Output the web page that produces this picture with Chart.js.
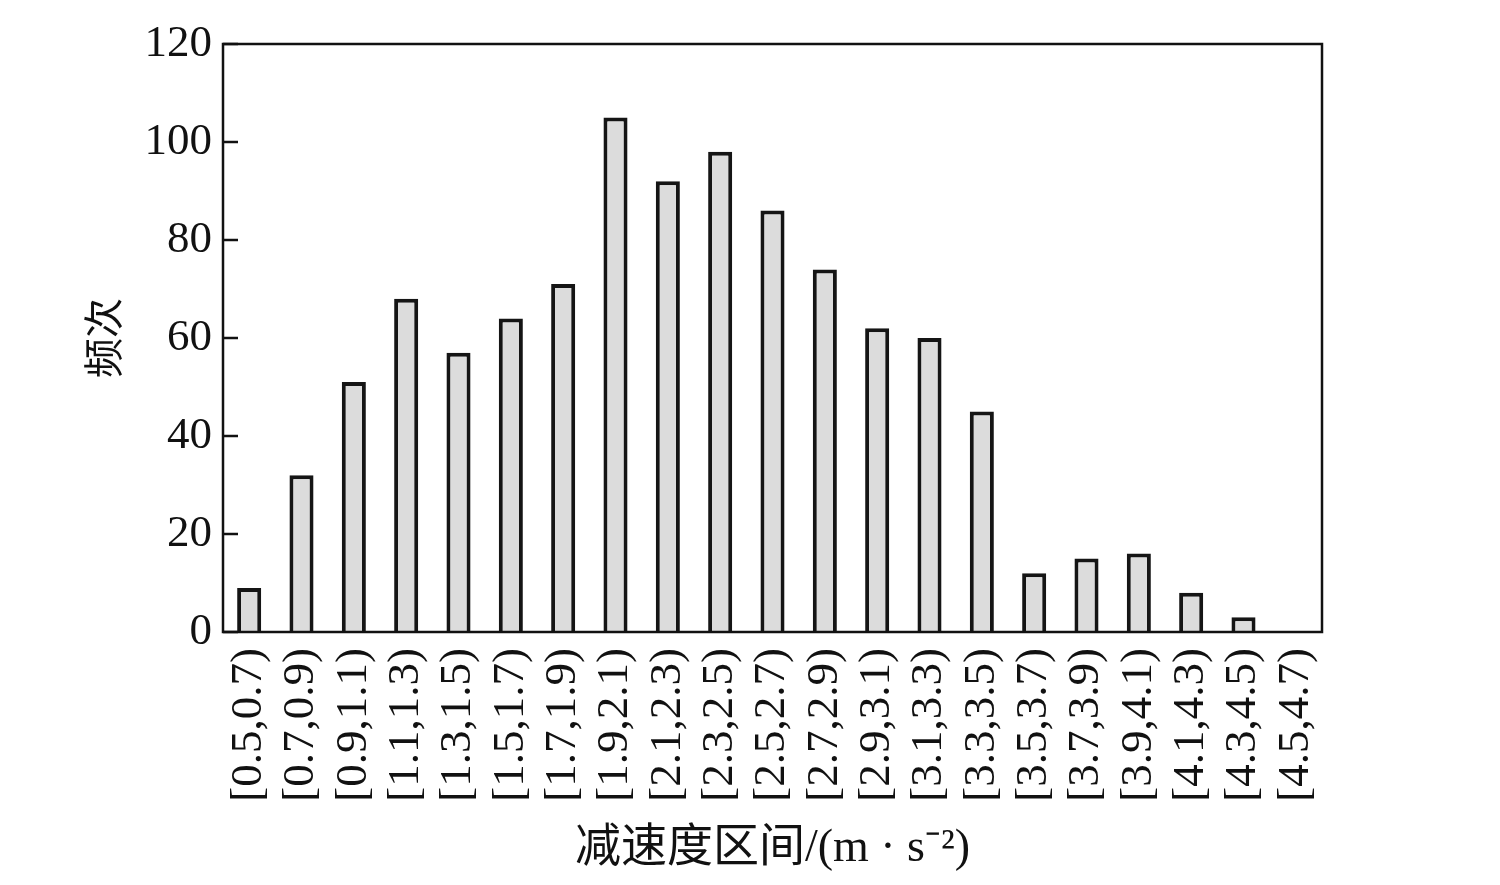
<!DOCTYPE html>
<html>
<head>
<meta charset="utf-8">
<script src="https://cdn.jsdelivr.net/npm/chart.js@4"></script>
<style>
  body { margin: 0; background: #fff; }
</style>
</head>
<body>
<canvas id="chart" width="1500" height="885"></canvas>
<script>
const bins = ['[0.5,0.7)','[0.7,0.9)','[0.9,1.1)','[1.1,1.3)','[1.3,1.5)','[1.5,1.7)','[1.7,1.9)',
              '[1.9,2.1)','[2.1,2.3)','[2.3,2.5)','[2.5,2.7)','[2.7,2.9)','[2.9,3.1)','[3.1,3.3)',
              '[3.3,3.5)','[3.5,3.7)','[3.7,3.9)','[3.9,4.1)','[4.1,4.3)','[4.3,4.5)','[4.5,4.7)'];
const counts = [9, 32, 51, 68, 57, 64, 71, 105, 92, 98, 86, 74, 62, 60, 45, 12, 15, 16, 8, 3, 0];
const yMax = 120, yStep = 20;
const xTitle = '减速度区间/(m · s⁻²)';
const yTitle = '频次';

const serif = '"Liberation Serif", "Times New Roman", serif';
const cjk   = '"Liberation Serif", "Noto Sans CJK SC", serif';

// box + inward ticks on the left axis
const frame = {
  id: 'frame',
  afterDraw(chart) {
    const { ctx, chartArea: a, scales: { y } } = chart;
    ctx.save();
    ctx.strokeStyle = '#111';
    ctx.lineWidth = 2.5;
    ctx.strokeRect(a.left, a.top, a.right - a.left, a.bottom - a.top);
    y.ticks.forEach(t => {
      const py = Math.round(y.getPixelForValue(t.value));
      ctx.beginPath();
      ctx.moveTo(a.left, py);
      ctx.lineTo(a.left + 15, py);
      ctx.stroke();
    });
    ctx.restore();
  }
};

new Chart(document.getElementById('chart'), {
  type: 'bar',
  data: {
    labels: bins,
    datasets: [{
      data: counts,
      backgroundColor: '#dcdcdc',
      borderColor: '#151515',
      borderWidth: 4,
      barPercentage: 0.46,
      categoryPercentage: 1
    }]
  },
  options: {
    responsive: false,
    animation: false,
    layout: { padding: { top: 44, right: 178, left: 0, bottom: 0 } },
    plugins: { legend: { display: false }, tooltip: { enabled: false } },
    scales: {
      x: {
        grid: { display: false, drawTicks: false },
        border: { display: false },
        ticks: {
          color: '#111',
          font: { family: serif, size: 45, lineHeight: 1 },
          minRotation: 90, maxRotation: 90,
          autoSkip: false,
          padding: 16
        },
        title: {
          display: true, text: xTitle, color: '#111',
          font: { family: cjk, size: 46 },
          padding: { bottom: 8 }
        },
        afterFit(s) { s.height = 253; }
      },
      y: {
        min: 0, max: yMax,
        grid: { display: false, drawTicks: false },
        border: { display: false },
        ticks: {
          stepSize: yStep,
          color: '#111',
          font: { family: serif, size: 45 },
          padding: 11
        },
        title: {
          display: true, text: yTitle, color: '#111',
          font: { family: cjk, size: 40 },
          padding: { top: 83 }
        },
        afterFit(s) { s.width = 223; }
      }
    }
  },
  plugins: [frame]
});
</script>
</body>
</html>
